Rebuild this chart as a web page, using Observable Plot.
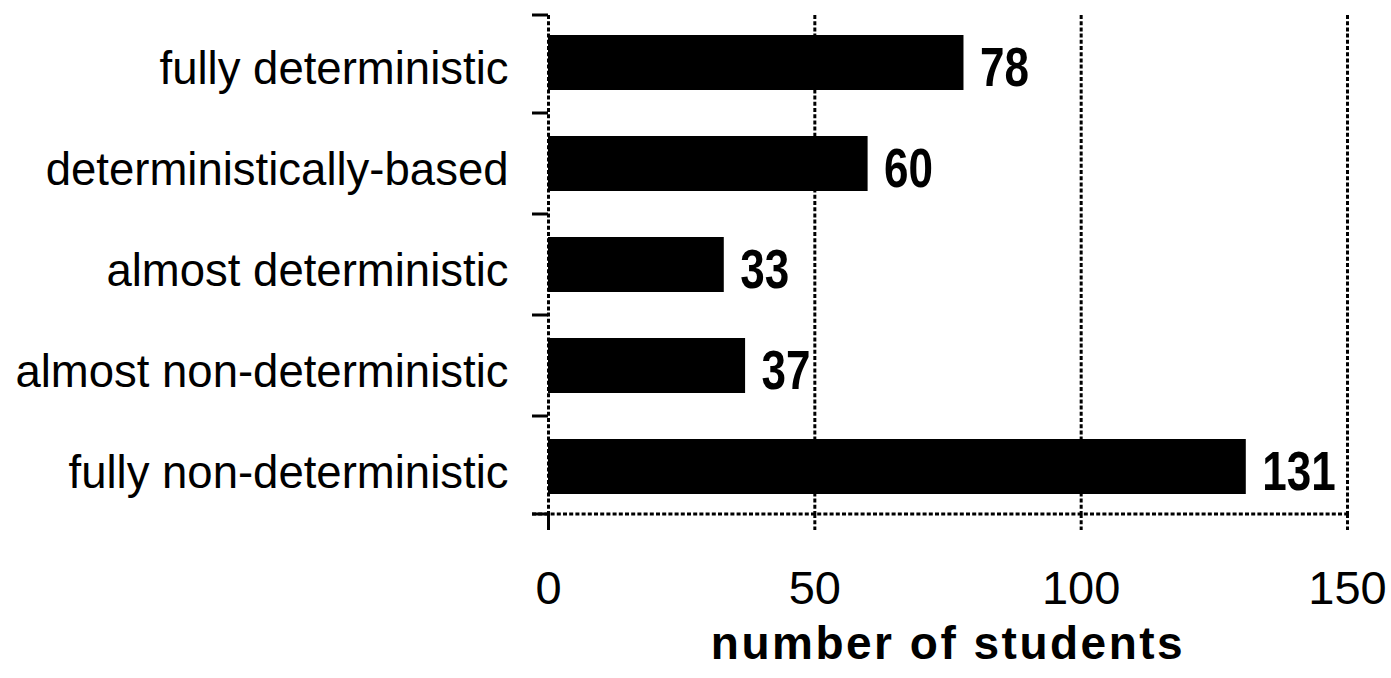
<!DOCTYPE html>
<html>
<head>
<meta charset="utf-8">
<script src="https://cdn.jsdelivr.net/npm/d3@7"></script>
<script src="https://cdn.jsdelivr.net/npm/@observablehq/plot@0.6"></script>
<style>
  html, body { margin: 0; padding: 0; background: #fff; }
</style>
</head>
<body>
<div id="chart"></div>
<script>
// ---- data ----
const categories = [
  "fully deterministic",
  "deterministically-based",
  "almost deterministic",
  "almost non-deterministic",
  "fully non-deterministic"
];
const counts = [78, 60, 33, 37, 131];
const xTicks = [0, 50, 100, 150];
const gridValues = [50, 100, 150];
const xLabel = "number of students";

const data = categories.map((c, i) => ({category: c, count: counts[i]}));

const dash = "4,2.2";
const lineW = 3;

// boundary ticks on the y axis + dashed bottom axis line (drawn from the scales)
function axisFrame(index, scales, values, dims) {
  const x = scales.x, y = scales.y;
  const bw = typeof y.bandwidth === "function" ? y.bandwidth() : 0;
  const top = dims.marginTop;
  const bottom = dims.height - dims.marginBottom;
  const x0 = x(xTicks[0]);
  const x1 = x(xTicks[xTicks.length - 1]);
  const ys = [top];
  for (let i = 1; i < categories.length; i++) {
    ys.push((y(categories[i - 1]) + bw + y(categories[i])) / 2);
  }
  ys.push(bottom);
  const g = d3.create("svg:g");
  g.selectAll("line.t").data(ys).join("line")
    .attr("x1", x0 - 16).attr("x2", x0)
    .attr("y1", d => d).attr("y2", d => d)
    .attr("stroke", "black").attr("stroke-width", lineW);
  g.append("line")
    .attr("x1", x0 - 16).attr("x2", x1)
    .attr("y1", bottom).attr("y2", bottom)
    .attr("stroke", "black").attr("stroke-width", lineW)
    .attr("stroke-dasharray", dash);
  return g.node();
}

const plot = Plot.plot({
  width: 1391,
  height: 678,
  marginLeft: 548,
  marginRight: 44,
  marginTop: 15,
  marginBottom: 164,
  style: {fontFamily: "'Liberation Sans', Arial, Helvetica, sans-serif", fontSize: "46px", color: "black", background: "white"},
  x: {domain: [0, 150]},
  y: {domain: categories, paddingInner: 0.46, paddingOuter: 0.18},
  marks: [
    Plot.ruleX(gridValues, {stroke: "black", strokeWidth: lineW, strokeDasharray: dash}),
    Plot.ruleX([0], {stroke: "black", strokeWidth: lineW, strokeDasharray: dash, insetBottom: -16}),
    Plot.barX(data, {x: "count", y: "category", fill: "black"}),
    Plot.text(data, {
      x: "count", y: "category", text: d => String(d.count),
      textAnchor: "start", dx: 16, dy: 5,
      fontWeight: "bold", fontSize: 55, fill: "black",
      className: "vlabel"
    }),
    Plot.axisY({tickSize: 0, tickPadding: 40, label: null, fontSize: 45.5, dy: 6}),
    Plot.axisX({ticks: xTicks, tickSize: 16, tickPadding: 40, label: null, fontSize: 47,
      strokeWidth: lineW, strokeDasharray: dash, tickFormat: d => String(d)}),
    axisFrame,
    Plot.text([xLabel], {
      frameAnchor: "bottom", dy: 144, text: d => d,
      fontWeight: "bold", fontSize: 46, fill: "black",
      className: "xtitle"
    })
  ]
});

document.getElementById("chart").appendChild(plot);

// horizontal squeeze of the bold value labels (taller, narrower digits like the reference)
d3.select(plot).selectAll(".vlabel text").each(function () {
  const t = d3.select(this);
  let tr = t.attr("transform");
  if (!tr) {
    const xv = +t.attr("x") || 0, yv = +t.attr("y") || 0;
    t.attr("x", null).attr("y", null);
    tr = `translate(${xv},${yv})`;
  }
  t.attr("transform", tr + " scale(0.8,1)");
});
d3.select(plot).selectAll(".xtitle text").style("letter-spacing", "2.5px");
</script>
</body>
</html>
